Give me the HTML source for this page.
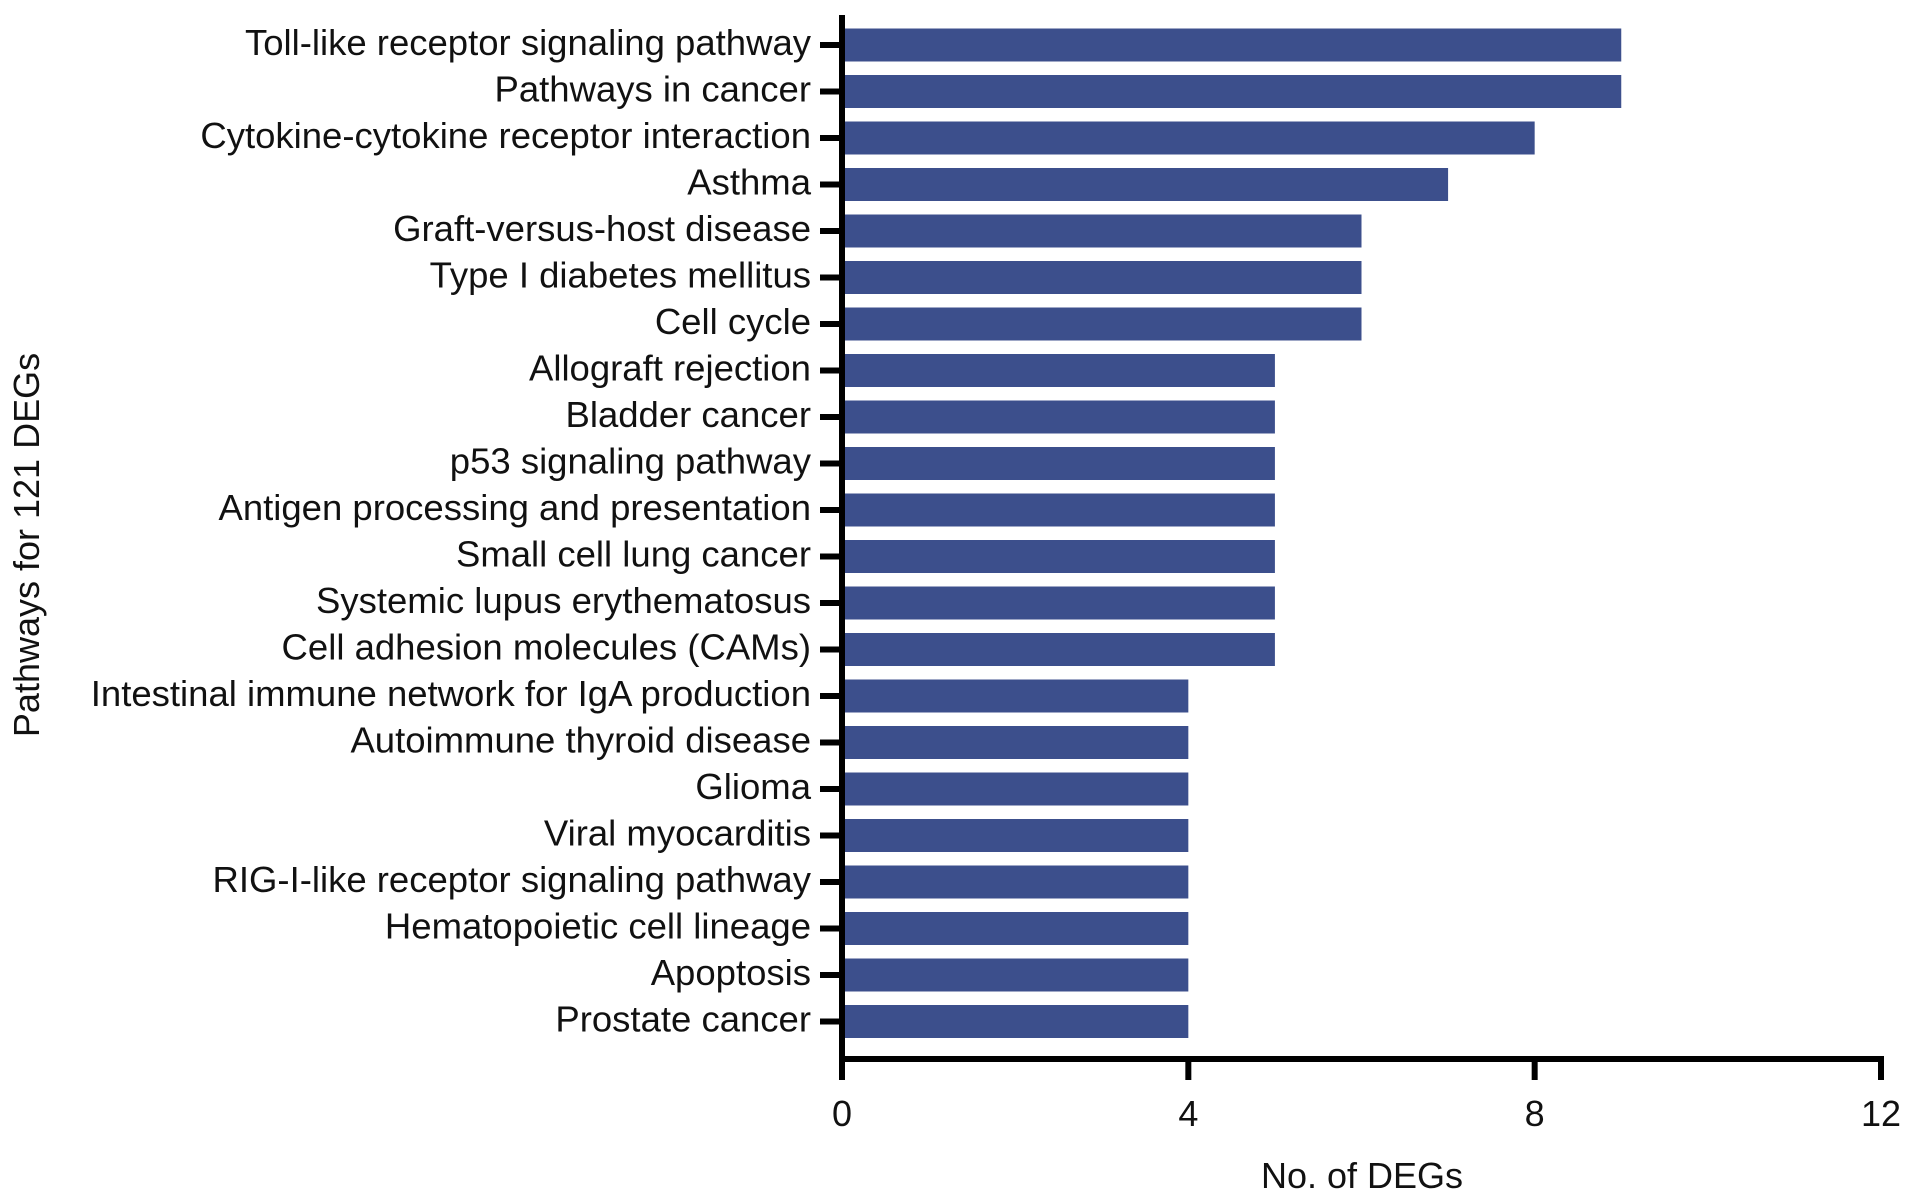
<!DOCTYPE html>
<html><head><meta charset="utf-8"><style>
html,body{margin:0;padding:0;background:#fff;}
svg{display:block;font-family:"Liberation Sans",Arial,sans-serif;}
</style></head><body>
<svg id="chart" width="1913" height="1202" viewBox="0 0 1913 1202"></svg>
<script>
const categories = ["Toll-like receptor signaling pathway","Pathways in cancer","Cytokine-cytokine receptor interaction","Asthma","Graft-versus-host disease","Type I diabetes mellitus","Cell cycle","Allograft rejection","Bladder cancer","p53 signaling pathway","Antigen processing and presentation","Small cell lung cancer","Systemic lupus erythematosus","Cell adhesion molecules (CAMs)","Intestinal immune network for IgA production","Autoimmune thyroid disease","Glioma","Viral myocarditis","RIG-I-like receptor signaling pathway","Hematopoietic cell lineage","Apoptosis","Prostate cancer"];
const values = [9,9,8,7,6,6,6,5,5,5,5,5,5,5,4,4,4,4,4,4,4,4];
const xTicks = [0,4,8,12];

const NS="http://www.w3.org/2000/svg";
const svg=document.getElementById('chart');
const x0=842, x1=1881, xMax=12;
const yTop=45, step=46.5, barH=33, axisY=1059;
function xs(v){return x0+(v/xMax)*(x1-x0);}
function yc(i){return yTop+i*step;}
function mk(tag,attrs){const e=document.createElementNS(NS,tag);for(const k in attrs)e.setAttribute(k,attrs[k]);svg.appendChild(e);return e;}

categories.forEach((c,i)=>{
  const b=mk('rect',{x:x0,y:yc(i)-barH/2,width:xs(values[i])-x0,height:barH,fill:'#3c4f8c'});
  
  
  const t=mk('line',{x1:820,x2:842,y1:yc(i),y2:yc(i),stroke:'#000','stroke-width':6});
  
  
  const l=mk('text',{x:811,y:yc(i)+10,'text-anchor':'end','font-size':36.5,fill:'#111'});
  l.textContent=c;
  
  
});
const ya=mk('line',{x1:x0,x2:x0,y1:15,y2:axisY+18,stroke:'#000','stroke-width':6});


const xa=mk('line',{x1:x0-3,x2:x1+3,y1:axisY,y2:axisY,stroke:'#000','stroke-width':6});


xTicks.forEach(v=>{
  const t=mk('line',{x1:xs(v),x2:xs(v),y1:axisY,y2:axisY+21,stroke:'#000','stroke-width':6});
  
  
  const l=mk('text',{x:xs(v),y:1126,'text-anchor':'middle','font-size':36,fill:'#111'});
  l.textContent=v;
  
  
});
const xt=mk('text',{x:1362,y:1188,'text-anchor':'middle','font-size':36,fill:'#111'});
xt.textContent='No. of DEGs';


const yt=mk('text',{x:0,y:0,'text-anchor':'middle','font-size':36,fill:'#111',transform:'translate(39,545) rotate(-90)'});
yt.textContent='Pathways for 121 DEGs';


</script>
</body></html>
